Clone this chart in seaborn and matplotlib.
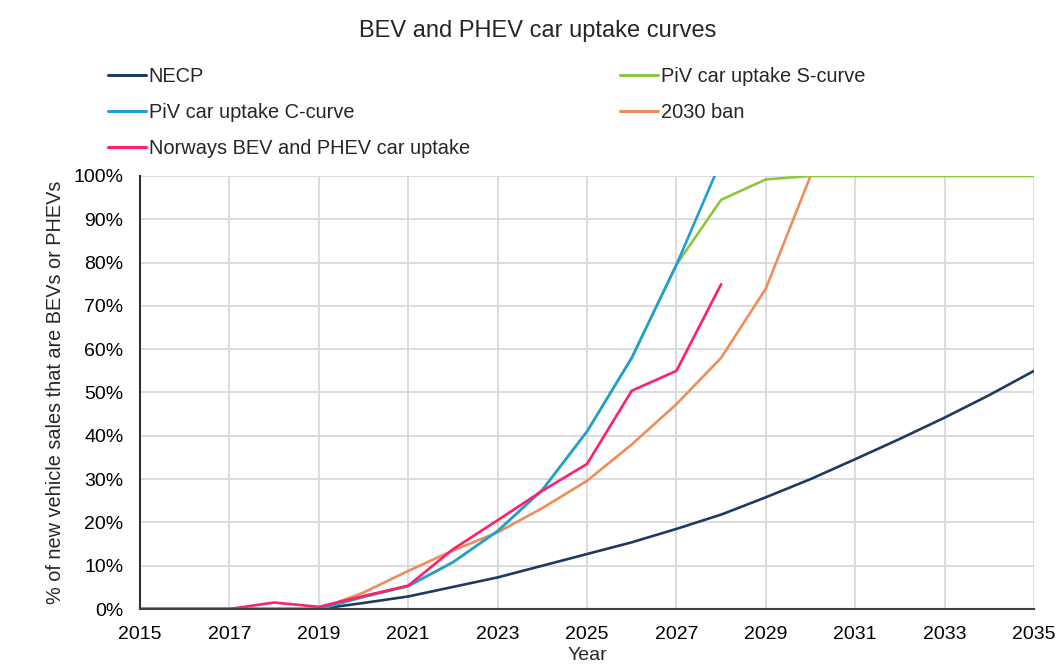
import numpy as np
import pandas as pd
import matplotlib
matplotlib.use("Agg")
import matplotlib.pyplot as plt
import seaborn as sns
from matplotlib.ticker import PercentFormatter

years = list(range(2015, 2036))

# % of new vehicle sales that are BEVs or PHEVs
necp = [0, 0, 0, 0, 0, 1.4, 2.9, 5.1, 7.3, 10.0, 12.7, 15.4, 18.5, 21.8,
        25.8, 30.0, 34.6, 39.3, 44.2, 49.4, 55.0]
s_curve = [0, 0, 0, 0, 0, 2.8, 5.3, 10.8, 18.0, 27.5, 41.0, 58.0, 79.5, 94.5,
           99.2, 100, 100, 100, 100, 100, 100]
c_curve = [0, 0, 0, 0, 0, 2.8, 5.3, 10.8, 18.0, 27.5, 41.0, 58.0, 79.5, 103.5]
ban_2030 = [0, 0, 0, 0, 0, 3.8, 8.8, 13.5, 17.7, 23.3, 29.6, 38.0, 47.3, 58.0,
            74.0, 100]
norway = [0, 0, 0, 1.5, 0.5, 3.0, 5.4, 13.8, 20.5, 27.3, 33.5, 50.4, 55.0, 75.0]

series = {
    "NECP": necp,
    "2030 ban": ban_2030,
    "PiV car uptake S-curve": s_curve,
    "PiV car uptake C-curve": c_curve,
    "Norways BEV and PHEV car uptake": norway,
}
colors = {
    "NECP": "#1f3a5f",
    "PiV car uptake S-curve": "#8dc63f",
    "PiV car uptake C-curve": "#1ea0d6",
    "2030 ban": "#ef8c5a",
    "Norways BEV and PHEV car uptake": "#ff1f6e",
}

rows = []
for name, vals in series.items():
    for yr, v in zip(years, vals):
        rows.append({"Year": yr, "value": v, "series": name})
df = pd.DataFrame(rows)

sns.set_style("white")
plt.rcParams["font.family"] = ["Liberation Sans", "DejaVu Sans"]

fig = plt.figure(figsize=(10.56, 6.64), dpi=100)
ax = fig.add_axes([0.1326, 0.0828, 0.8466, 0.6522])

sns.lineplot(data=df, x="Year", y="value", hue="series", hue_order=list(series),
             palette=colors, linewidth=1.9, ax=ax, legend=False)

ax.set_xlim(2015, 2035)
ax.set_ylim(0, 100)
ax.set_xticks(range(2015, 2036, 2))
ax.set_yticks(range(0, 101, 10))
ax.yaxis.set_major_formatter(PercentFormatter(decimals=0))
ax.grid(True, color="#d9d9d9", linewidth=1.3)
ax.set_axisbelow(True)
for side in ["top", "right"]:
    ax.spines[side].set_visible(False)
ax.spines["left"].set_color("#303030")
ax.spines["bottom"].set_color("#404040")
ax.spines["left"].set_linewidth(1.5)
ax.spines["bottom"].set_linewidth(1.5)
ax.tick_params(axis="both", length=0, labelsize=14, colors="#000000", pad=12)
ax.set_xlabel("Year", fontsize=14, va="top")
ax.xaxis.set_label_coords(0.5, -0.088)
ax.set_ylabel("% of new vehicle sales that are BEVs or PHEVs", fontsize=14.3)
ax.yaxis.set_label_coords(-0.084, 0.5)

fig.text(0.509, 0.953, "BEV and PHEV car uptake curves", fontsize=17,
         ha="center", va="center")

order = ["NECP", "PiV car uptake C-curve", "Norways BEV and PHEV car uptake",
         "PiV car uptake S-curve", "2030 ban"]
handles = [plt.Line2D([], [], color=colors[n], linewidth=2.2) for n in order]
fig.legend(handles, order, loc="upper left", bbox_to_anchor=(0.102, 0.899),
           ncol=2, frameon=False, fontsize=14.4, handlelength=1.9,
           handletextpad=0.15, columnspacing=7.5, labelspacing=0.86,
           borderpad=0, borderaxespad=0)

fig.savefig("out.png", dpi=100)
